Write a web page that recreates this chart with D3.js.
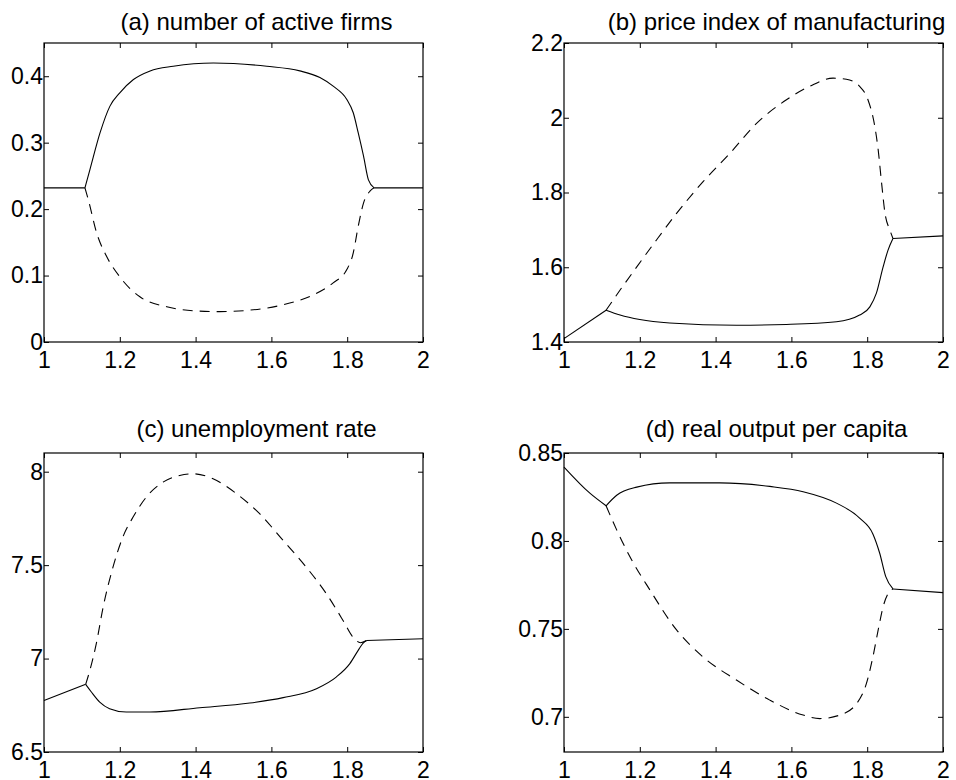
<!DOCTYPE html>
<html>
<head>
<meta charset="utf-8">
<script src="https://cdn.jsdelivr.net/npm/d3@7"></script>
<style>
	body { margin: 0; background: #fff; }
	svg { display: block; font-family: "Liberation Sans", Arial, Helvetica, sans-serif; }
</style>
</head>
<body>
<svg id="chart" width="956" height="780"></svg>
<script>
var xTicks = [1, 1.2, 1.4, 1.6, 1.8, 2];
var xDomain = [1, 2];

var titles = [
	'(a) number of active firms',
	'(b) price index of manufacturing',
	'(c) unemployment rate',
	'(d) real output per capita'
];

var firmsTicks = [0, 0.1, 0.2, 0.3, 0.4];
var priceTicks = [1.4, 1.6, 1.8, 2, 2.2];
var unempTicks = [6.5, 7, 7.5, 8];
var outputTicks = [0.7, 0.75, 0.8, 0.85];

var firmsDomain = [0, 0.45];
var priceDomain = [1.4, 2.2];
var unempDomain = [6.5, 8.1];
var outputDomain = [0.68, 0.85];

// stable branch (solid) and unstable branch (dashed), [x, value]
var firmsStable = [[1,0.232],[1.108,0.232],[1.121,0.259],[1.148,0.315],[1.174,0.355],[1.2,0.375],[1.236,0.395],[1.28,0.408],[1.341,0.415],[1.447,0.42],[1.588,0.415],[1.675,0.408],[1.728,0.398],[1.763,0.385],[1.799,0.365],[1.816,0.345],[1.829,0.315],[1.843,0.28],[1.856,0.244],[1.871,0.232],[2,0.232]];
var firmsUnstable = [[1.108,0.232],[1.117,0.214],[1.139,0.164],[1.165,0.129],[1.2,0.098],[1.253,0.068],[1.324,0.053],[1.394,0.047],[1.464,0.0457],[1.544,0.048],[1.631,0.056],[1.711,0.071],[1.763,0.089],[1.799,0.109],[1.816,0.134],[1.829,0.174],[1.843,0.209],[1.86,0.227],[1.871,0.232]];

var priceStable = [[1,1.409],[1.111,1.485],[1.148,1.472],[1.2,1.46],[1.279,1.451],[1.455,1.445],[1.587,1.447],[1.719,1.454],[1.78,1.472],[1.807,1.494],[1.824,1.53],[1.842,1.601],[1.855,1.646],[1.868,1.677],[2,1.684]];
var priceUnstable = [[1.111,1.485],[1.148,1.539],[1.192,1.601],[1.244,1.673],[1.297,1.744],[1.367,1.829],[1.438,1.905],[1.508,1.985],[1.587,2.048],[1.648,2.084],[1.71,2.106],[1.745,2.103],[1.78,2.084],[1.802,2.048],[1.82,1.977],[1.829,1.914],[1.838,1.825],[1.847,1.744],[1.86,1.699],[1.868,1.677]];

var unempStable = [[1,6.776],[1.11,6.862],[1.125,6.821],[1.147,6.767],[1.173,6.732],[1.217,6.714],[1.279,6.714],[1.411,6.737],[1.543,6.762],[1.631,6.791],[1.719,6.839],[1.771,6.901],[1.807,6.973],[1.829,7.044],[1.842,7.083],[1.851,7.097],[2,7.106]];
var unempUnstable = [[1.11,6.862],[1.121,6.937],[1.138,7.08],[1.156,7.275],[1.182,7.489],[1.208,7.65],[1.235,7.757],[1.27,7.864],[1.314,7.944],[1.358,7.98],[1.393,7.989],[1.446,7.962],[1.508,7.882],[1.569,7.775],[1.631,7.632],[1.692,7.489],[1.745,7.347],[1.789,7.204],[1.815,7.115],[1.835,7.085],[1.851,7.097]];

var outputStable = [[1,0.842],[1.069,0.827],[1.111,0.82],[1.139,0.826],[1.192,0.8306],[1.279,0.833],[1.411,0.833],[1.543,0.831],[1.631,0.828],[1.719,0.8215],[1.78,0.813],[1.815,0.804],[1.833,0.793],[1.849,0.7797],[1.868,0.7727],[2,0.7706]];
var outputUnstable = [[1.111,0.82],[1.139,0.8063],[1.174,0.791],[1.227,0.772],[1.297,0.7494],[1.367,0.734],[1.455,0.7209],[1.543,0.7095],[1.631,0.701],[1.675,0.699],[1.728,0.701],[1.772,0.7075],[1.798,0.719],[1.815,0.734],[1.829,0.7494],[1.842,0.7626],[1.855,0.77],[1.868,0.7727]];

var panels = [
	{ title: titles[0], ticks: firmsTicks, domain: firmsDomain, stable: firmsStable, unstable: firmsUnstable, left: 44, top: 43, titleY: 30 },
	{ title: titles[1], ticks: priceTicks, domain: priceDomain, stable: priceStable, unstable: priceUnstable, left: 564, top: 43, titleY: 30 },
	{ title: titles[2], ticks: unempTicks, domain: unempDomain, stable: unempStable, unstable: unempUnstable, left: 44, top: 453, titleY: 437 },
	{ title: titles[3], ticks: outputTicks, domain: outputDomain, stable: outputStable, unstable: outputUnstable, left: 564, top: 453, titleY: 437 }
];

var W = 379, H = 299;
var svg = d3.select('#chart');

// split the stable branch at the bifurcation points so the kinks stay sharp
function splitAt(points, breaks){
	var segs = [[]];
	points.forEach(function(p){
		segs[segs.length-1].push(p);
		if (breaks.indexOf(p[0]) >= 0 && segs[segs.length-1].length > 1){
			segs.push([p]);
		}
	});
	return segs.filter(function(s){ return s.length > 1; });
}

panels.forEach(function(p){
	var g = svg.append('g').attr('transform', 'translate(' + p.left + ',' + p.top + ')');

	var x = d3.scaleLinear().domain(xDomain).range([0, W]);
	var y = d3.scaleLinear().domain(p.domain).range([H, 0]);

	var line = d3.line()
		.x(function(d){ return x(d[0]); })
		.y(function(d){ return y(d[1]); })
		.curve(d3.curveMonotoneX);

	var fmt = function(d){ return String(d); };

	g.append('g').attr('transform', 'translate(0,' + H + ')')
		.call(d3.axisBottom(x).tickValues(xTicks).tickFormat(fmt).tickSizeInner(-5).tickSizeOuter(0).tickPadding(10));
	g.append('g')
		.call(d3.axisTop(x).tickValues(xTicks).tickFormat('').tickSizeInner(-5).tickSizeOuter(0));
	g.append('g')
		.call(d3.axisLeft(y).tickValues(p.ticks).tickFormat(fmt).tickSizeInner(-5).tickSizeOuter(0).tickPadding(1));
	g.append('g').attr('transform', 'translate(' + W + ',0)')
		.call(d3.axisRight(y).tickValues(p.ticks).tickFormat('').tickSizeInner(-5).tickSizeOuter(0));

	g.selectAll('.domain').remove();
	g.selectAll('.tick line').attr('stroke', '#000');
	g.selectAll('.tick text').attr('fill', '#000').style('font-size', '23px');

	g.append('rect')
		.attr('width', W).attr('height', H)
		.attr('fill', 'none').attr('stroke', '#000').attr('stroke-width', 1.2);

	var breaks = [p.unstable[0][0], p.unstable[p.unstable.length-1][0]];
	splitAt(p.stable, breaks).forEach(function(seg){
		g.append('path').datum(seg)
			.attr('d', line)
			.attr('fill', 'none').attr('stroke', '#000').attr('stroke-width', 1.1);
	});

	g.append('path').datum(p.unstable)
		.attr('d', line)
		.attr('fill', 'none').attr('stroke', '#000').attr('stroke-width', 1.1)
		.attr('stroke-dasharray', '10,7');

	svg.append('text')
		.attr('x', p.left + W/2 + 23)
		.attr('y', p.titleY)
		.attr('text-anchor', 'middle')
		.style('font-size', '24px')
		.text(p.title);
});
</script>
</body>
</html>
